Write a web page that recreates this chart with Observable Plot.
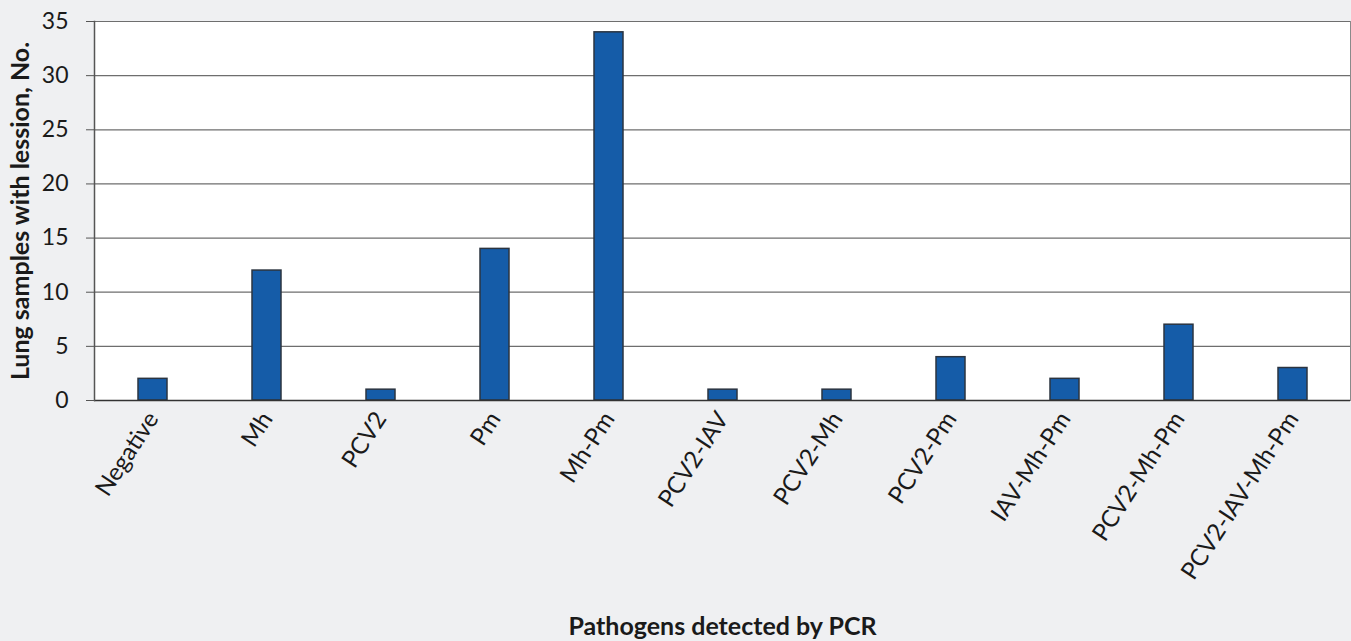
<!DOCTYPE html>
<html>
<head>
<meta charset="utf-8">
<script src="https://cdn.jsdelivr.net/npm/d3@7"></script>
<script src="https://cdn.jsdelivr.net/npm/@observablehq/plot@0.6"></script>
<style>
  html, body { margin: 0; padding: 0; background: #eff0f2; }
  #chart { width: 1351px; height: 641px; }
</style>
</head>
<body>
<div id="chart"></div>
<script>
const categories = ["Negative", "Mh", "PCV2", "Pm", "Mh-Pm", "PCV2-IAV", "PCV2-Mh", "PCV2-Pm", "IAV-Mh-Pm", "PCV2-Mh-Pm", "PCV2-IAV-Mh-Pm"];
const counts = [2, 12, 1, 14, 34, 1, 1, 4, 2, 7, 3];
const yTicks = [0, 5, 10, 15, 20, 25, 30, 35];
const xTitle = "Pathogens detected by PCR";
const yTitle = "Lung samples with lession, No.";

const data = categories.map((c, i) => ({category: c, count: counts[i]}));

const chart = Plot.plot({
  width: 1351,
  height: 641,
  marginTop: 21,
  marginBottom: 241,
  marginLeft: 94,
  marginRight: 1,
  style: {background: "#eff0f2", fontFamily: "Lato, 'Open Sans', sans-serif", fontSize: "23px", color: "#1a1a1a"},
  x: {domain: categories, paddingInner: 0.75, paddingOuter: 0.375, align: 0.5},
  y: {domain: [0, 35]},
  marks: [
    Plot.frame({fill: "white", stroke: "#8a8a8a"}),
    Plot.ruleY(yTicks.filter(d => d > 0), {stroke: "#6e6e6e", strokeWidth: 1.2}),
    Plot.barY(data, {x: "category", y: "count", fill: "#155ca8", stroke: "#2b3440", strokeWidth: 1.5}),
    Plot.ruleY([0], {stroke: "#333", strokeWidth: 1.5}),
    Plot.frame({anchor: "left", stroke: "#555", strokeWidth: 1.5}),
    Plot.axisY({ticks: yTicks, tickSize: 8, tickPadding: 18, stroke: "#555", fontSize: 23,
      label: yTitle, labelAnchor: "center", labelArrow: "none", labelOffset: 83}),
    Plot.axisX({tickSize: 0, tickPadding: 14, tickRotate: -57, fontSize: 24, label: xTitle,
      labelAnchor: "center", labelArrow: "none", labelOffset: 234})
  ]
});
document.getElementById("chart").appendChild(chart);
// bold, larger axis titles
chart.querySelectorAll("[aria-label='x-axis label'], [aria-label='y-axis label']").forEach(g => {
  g.setAttribute("font-weight", "bold");
  g.setAttribute("font-size", "25");
});
</script>
</body>
</html>
